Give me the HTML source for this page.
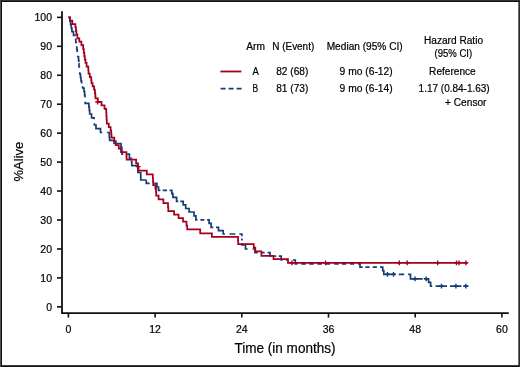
<!DOCTYPE html>
<html><head><meta charset="utf-8"><style>
html,body{margin:0;padding:0;background:#fff;}
svg{display:block;will-change:transform;}
text{font-family:"Liberation Sans",sans-serif;fill:#000;stroke:#000;stroke-width:0.2px;}
</style></head><body>
<svg width="520" height="367" viewBox="0 0 520 367">
<rect x="0" y="0" width="520" height="367" fill="#111"/>
<rect x="0" y="0" width="1" height="367" fill="#505050"/>
<rect x="0" y="0" width="520" height="1" fill="#333"/>
<rect x="519" y="0" width="1" height="367" fill="#2a2a2a"/>
<rect x="2" y="2" width="516.4" height="363.2" fill="#fff"/>
<path d="M62,11.2V313.2H508.8" fill="none" stroke="#111" stroke-width="1.8"/>
<line x1="57" y1="306.85" x2="62" y2="306.85" stroke="#111" stroke-width="1.6"/>
<text x="52" y="310.75" text-anchor="end" font-size="10.5">0</text>
<line x1="57" y1="277.90" x2="62" y2="277.90" stroke="#111" stroke-width="1.6"/>
<text x="52" y="281.80" text-anchor="end" font-size="10.5">10</text>
<line x1="57" y1="248.95" x2="62" y2="248.95" stroke="#111" stroke-width="1.6"/>
<text x="52" y="252.85" text-anchor="end" font-size="10.5">20</text>
<line x1="57" y1="220.00" x2="62" y2="220.00" stroke="#111" stroke-width="1.6"/>
<text x="52" y="223.90" text-anchor="end" font-size="10.5">30</text>
<line x1="57" y1="191.05" x2="62" y2="191.05" stroke="#111" stroke-width="1.6"/>
<text x="52" y="194.95" text-anchor="end" font-size="10.5">40</text>
<line x1="57" y1="162.10" x2="62" y2="162.10" stroke="#111" stroke-width="1.6"/>
<text x="52" y="166.00" text-anchor="end" font-size="10.5">50</text>
<line x1="57" y1="133.15" x2="62" y2="133.15" stroke="#111" stroke-width="1.6"/>
<text x="52" y="137.05" text-anchor="end" font-size="10.5">60</text>
<line x1="57" y1="104.20" x2="62" y2="104.20" stroke="#111" stroke-width="1.6"/>
<text x="52" y="108.10" text-anchor="end" font-size="10.5">70</text>
<line x1="57" y1="75.25" x2="62" y2="75.25" stroke="#111" stroke-width="1.6"/>
<text x="52" y="79.15" text-anchor="end" font-size="10.5">80</text>
<line x1="57" y1="46.30" x2="62" y2="46.30" stroke="#111" stroke-width="1.6"/>
<text x="52" y="50.20" text-anchor="end" font-size="10.5">90</text>
<line x1="57" y1="17.35" x2="62" y2="17.35" stroke="#111" stroke-width="1.6"/>
<text x="52" y="21.25" text-anchor="end" font-size="10.5">100</text>
<line x1="68.40" y1="313" x2="68.40" y2="317.6" stroke="#111" stroke-width="1.6"/>
<text x="68.40" y="333" text-anchor="middle" font-size="10.5">0</text>
<line x1="155.10" y1="313" x2="155.10" y2="317.6" stroke="#111" stroke-width="1.6"/>
<text x="155.10" y="333" text-anchor="middle" font-size="10.5">12</text>
<line x1="241.80" y1="313" x2="241.80" y2="317.6" stroke="#111" stroke-width="1.6"/>
<text x="241.80" y="333" text-anchor="middle" font-size="10.5">24</text>
<line x1="328.50" y1="313" x2="328.50" y2="317.6" stroke="#111" stroke-width="1.6"/>
<text x="328.50" y="333" text-anchor="middle" font-size="10.5">36</text>
<line x1="415.20" y1="313" x2="415.20" y2="317.6" stroke="#111" stroke-width="1.6"/>
<text x="415.20" y="333" text-anchor="middle" font-size="10.5">48</text>
<line x1="501.90" y1="313" x2="501.90" y2="317.6" stroke="#111" stroke-width="1.6"/>
<text x="501.90" y="333" text-anchor="middle" font-size="10.5">60</text>
<text x="285" y="353" text-anchor="middle" font-size="14" textLength="101" lengthAdjust="spacingAndGlyphs">Time (in months)</text>
<text transform="translate(22.6,161.6) rotate(-90)" text-anchor="middle" font-size="13.5" textLength="39.6" lengthAdjust="spacingAndGlyphs">%Alive</text>
<g font-size="10">
<text x="246.2" y="50.3" textLength="18.7" lengthAdjust="spacingAndGlyphs">Arm</text>
<text x="272.3" y="50.3" textLength="41.9" lengthAdjust="spacingAndGlyphs">N (Event)</text>
<text x="326.7" y="50.3" textLength="76" lengthAdjust="spacingAndGlyphs">Median (95% CI)</text>
<text x="424" y="43.6" textLength="59" lengthAdjust="spacingAndGlyphs">Hazard Ratio</text>
<text x="434.5" y="56.8" textLength="37.7" lengthAdjust="spacingAndGlyphs">(95% CI)</text>
<text x="252.5" y="75.1" textLength="6.3" lengthAdjust="spacingAndGlyphs">A</text>
<text x="276.2" y="75.1" textLength="32.1" lengthAdjust="spacingAndGlyphs">82 (68)</text>
<text x="339.6" y="75.2" textLength="53.1" lengthAdjust="spacingAndGlyphs">9 mo (6-12)</text>
<text x="429.1" y="75.1" textLength="46.6" lengthAdjust="spacingAndGlyphs">Reference</text>
<text x="252.6" y="91.8" textLength="5.6" lengthAdjust="spacingAndGlyphs">B</text>
<text x="276.2" y="91.8" textLength="32.1" lengthAdjust="spacingAndGlyphs">81 (73)</text>
<text x="339.6" y="92" textLength="53.1" lengthAdjust="spacingAndGlyphs">9 mo (6-14)</text>
<text x="418.6" y="92" textLength="71.1" lengthAdjust="spacingAndGlyphs">1.17 (0.84-1.63)</text>
<text x="445" y="105.7" textLength="41.5" lengthAdjust="spacingAndGlyphs">+ Censor</text>
</g>
<line x1="220.4" y1="71.5" x2="241.4" y2="71.5" stroke="#a3001f" stroke-width="1.8"/>
<line x1="220.6" y1="88.6" x2="241.6" y2="88.6" stroke="#173a78" stroke-width="1.8" stroke-dasharray="5 3"/>
<path d="M68.30,17.30L69.90,17.30L69.90,21.20L70.60,21.20L70.60,24.70L71.30,24.70L71.30,28.20L71.90,28.20L71.90,31.60L73.50,31.60L73.50,35.30L75.60,35.30L75.60,35.60M75.60,38.80L75.60,39.00L75.80,39.00L75.80,42.50L76.20,42.50L76.20,43.20M76.80,46.20L76.80,49.50L77.20,49.50L77.20,52.00M77.80,55.80L77.80,56.50L78.50,56.50L78.50,60.00L78.80,60.00L78.80,62.00M78.80,63.40L78.80,63.50L79.00,63.50L79.00,67.00L79.30,67.00L79.30,67.80M79.80,72.30L79.80,74.00L80.50,74.00L80.50,77.50L81.00,77.50L81.00,81.00L81.60,81.00L81.60,83.60M82.60,86.20L82.60,88.00L84.00,88.00L84.00,91.50L84.60,91.50L84.60,95.00L85.00,95.00L85.00,97.40M85.20,101.70L85.20,103.40L88.90,103.40L88.90,106.90L89.30,106.90L89.30,110.30L89.70,110.30L89.70,114.00L91.60,114.00L91.60,117.90L94.10,117.90L94.10,119.30M94.40,123.20L94.40,125.00L96.00,125.00L96.00,128.60L100.50,128.60L100.50,132.50L102.20,132.50M107.10,132.50L109.30,132.50L109.30,137.00L109.60,137.00L109.60,140.30L114.00,140.30L114.00,143.50L121.00,143.50L121.00,147.20L121.80,147.20L121.80,150.70L122.00,150.70L122.00,154.20L123.30,154.20M127.10,154.20L129.40,154.20L129.40,158.30L131.50,158.30L131.50,158.60M131.50,160.40L131.50,161.60L131.80,161.60L131.80,165.60L137.80,165.60L137.80,169.30L137.90,169.30L137.90,172.50L140.70,172.50L140.70,176.30L140.80,176.30L140.80,180.00L146.30,180.00" fill="none" stroke="#173a78" stroke-width="1.7"/>
<path d="M146.30,180.00L146.30,183.30L149.60,183.30M154.20,183.30L156.90,183.30L156.90,187.00L158.50,187.00L158.50,190.40L160.40,190.40M162.70,190.40L167.00,190.40M169.60,190.40L171.80,190.40L171.80,193.60L172.90,193.60L172.90,197.40L176.60,197.40L176.60,201.30L178.30,201.30M180.30,201.30L183.20,201.30L183.20,204.80L185.70,204.80L185.70,208.50L189.10,208.50L189.10,212.00L194.00,212.00L194.00,215.90L195.90,215.90L195.90,219.80L197.50,219.80M200.40,219.80L204.30,219.80M207.10,219.80L209.10,219.80L209.10,223.30L211.10,223.30L211.10,227.30L213.30,227.30M216.00,227.30L218.50,227.30L218.50,230.60L223.20,230.60L223.20,234.00L225.00,234.00M229.50,234.00L235.30,234.00M239.30,234.00L241.90,234.00L241.90,236.20M241.90,238.60L241.90,240.60M241.90,243.10L241.90,245.00L245.50,245.00L245.50,249.00L247.60,249.00M252.60,249.00L255.00,249.00L255.00,252.60L257.70,252.60M261.80,252.60L264.60,252.60M267.60,252.60L270.00,252.60L270.00,256.20L271.50,256.20M274.30,256.20L276.20,256.20M278.80,256.20L281.20,256.20L281.20,260.00L282.60,260.00M286.00,260.00L287.60,260.00M292.80,260.00L295.30,260.00L295.30,263.90L297.50,263.90M301.20,263.90L305.80,263.90M309.20,263.90L313.80,263.90M317.30,263.90L321.90,263.90M325.50,263.90L330.00,263.90M334.40,263.90L338.80,263.90M341.90,263.90L346.30,263.90M350.00,263.90L354.20,263.90M358.10,263.90L360.00,263.90L360.00,267.20L362.70,267.20M365.40,267.20L369.60,267.20M372.70,267.20L376.90,267.20M380.00,267.20L382.70,267.20L382.70,270.70L383.80,270.70L383.80,274.30L395.50,274.30M398.80,274.30L404.20,274.30M408.10,274.30L410.50,274.30L410.50,278.80L422.70,278.80M424.50,278.80L428.60,278.80L428.60,282.30L430.60,282.30L430.60,286.20L432.20,286.20M435.60,286.20L447.00,286.20M450.00,286.20L461.40,286.20M463.50,286.20L468.20,286.20" fill="none" stroke="#173a78" stroke-width="1.7"/>
<path d="M387.50,271.90V276.70M385.10,274.30H389.90M393.50,271.90V276.70M391.10,274.30H395.90M415.00,276.40V281.20M412.60,278.80H417.40M426.20,276.40V281.20M423.80,278.80H428.60M441.50,283.80V288.60M439.10,286.20H443.90M455.90,283.80V288.60M453.50,286.20H458.30M465.80,283.80V288.60M463.40,286.20H468.20" fill="none" stroke="#173a78" stroke-width="1.4"/>
<path d="M68.3,17.3H70.1V20.7H72.3V24.0H75.4V27.4H75.9V30.9H76.4V34.4H77.4V38.3H79.3V41.7H81.4V45.2H83.2V49.0H83.8V52.5H84.3V56.0H84.8V59.5H85.5V62.8H86.6V66.6H88.3V70.0H88.5V73.6H89.8V77.0H91.2V80.0H91.5V83.0H92.6V86.3H94.1V89.6H94.9V93.0H95.3V96.0H95.5V98.4H97.8V101.9H101.5V105.3H104.5V108.9H106.2V112.5H106.4V116.0H106.6V119.6H106.8V123.5H108.8V127.0H110.6V130.7H111.2V134.2H111.5V137.6H114.3V141.2H115.8V145.0H118.8V148.6H121.0V152.2H126.4V155.9H126.6V159.6H136.1V163.4H138.0V167.0H138.5V170.6H146.8V174.4H152.8V177.8H153.0V181.3H153.2V185.0H155.4V188.6H156.0V192.1H156.2V195.7H158.6V199.4H163.4V203.2H168.0V207.2H168.3V211.0H174.1V214.5H178.6V218.1H183.0V221.6H186.5V225.6H187.2V229.3H200.2V233.4H211.9V236.8H238.0V240.6H238.2V244.2H253.8V247.7H255.3V251.3H261.4V255.8H273.5V259.2H288.0V262.8H467.5" fill="none" stroke="#a3001f" stroke-width="1.75"/>
<path d="M97.60,99.60V104.40M95.20,102.00H100.00M138.20,164.20V169.00M135.80,166.60H140.60M291.90,260.40V265.20M289.50,262.80H294.30M325.50,260.40V265.20M323.10,262.80H327.90M399.30,260.40V265.20M396.90,262.80H401.70M407.20,260.40V265.20M404.80,262.80H409.60M437.70,260.40V265.20M435.30,262.80H440.10M456.50,260.40V265.20M454.10,262.80H458.90M459.00,260.40V265.20M456.60,262.80H461.40M465.90,260.40V265.20M463.50,262.80H468.30" fill="none" stroke="#a3001f" stroke-width="1.4"/>
</svg>
</body></html>
